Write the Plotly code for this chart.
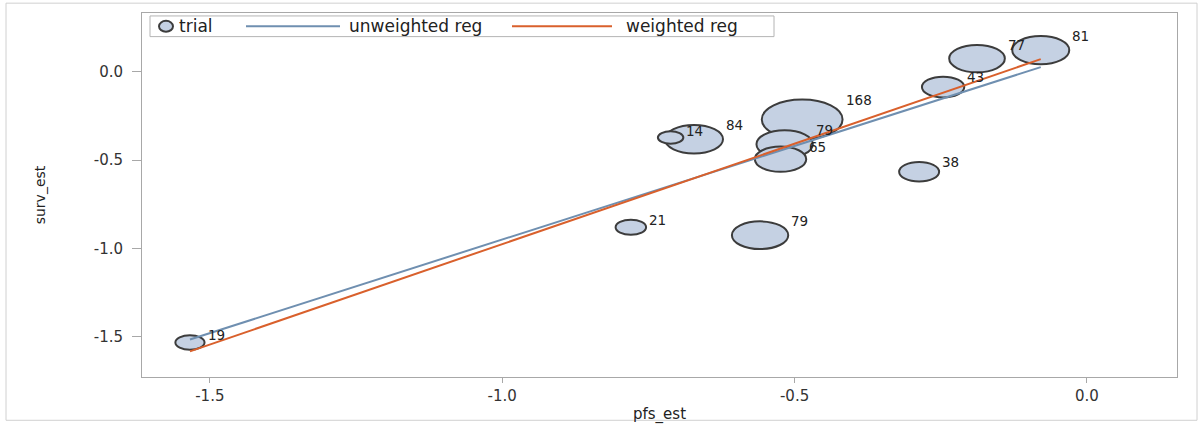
import plotly.graph_objects as go
import numpy as np

# ---- data ----
pfs_est = [-1.534, -0.780, -0.559, -0.712, -0.672, -0.487, -0.517, -0.524, -0.287, -0.246, -0.188, -0.079]
surv_est = [-1.532, -0.880, -0.925, -0.372, -0.382, -0.270, -0.410, -0.495, -0.566, -0.087, 0.074, 0.122]
trial_wt = [19, 21, 79, 14, 84, 168, 79, 65, 38, 43, 77, 81]

reg_x = [-1.534, -0.079]
unweighted_y = [-1.515, 0.026]
weighted_y = [-1.582, 0.071]

tick_vals = [-1.5, -1.0, -0.5, 0.0]
tick_text = ["-1.5", "-1.0", "-0.5", "0.0"]

# ---- layout geometry ----
W, H = 1201, 432
ML, MR, MT, MB = 142, 24, 13, 49
PW, PH = W - ML - MR, H - MT - MB
XR = [-1.616, 0.154]
YR = [-1.727, 0.332]
px_x = PW / (XR[1] - XR[0])
px_y = PH / (YR[1] - YR[0])

FILL = "#c5d1e3"
EDGE = "#3c3c3c"
BLUE = "#6f8fb0"
ORANGE = "#d9602c"
FONT = "DejaVu Sans"

fig = go.Figure()

fig.add_trace(go.Scatter(x=reg_x, y=unweighted_y, mode="lines", name="unweighted reg",
                         line=dict(color=BLUE, width=2), showlegend=False))
fig.add_trace(go.Scatter(x=reg_x, y=weighted_y, mode="lines", name="weighted reg",
                         line=dict(color=ORANGE, width=2), showlegend=False))

shapes = []
annotations = []
order = sorted(range(len(trial_wt)), key=lambda i: -trial_wt[i])
for i in order:
    xv, yv, w = pfs_est[i], surv_est[i], trial_wt[i]
    rx = 1.5 + 3.0 * np.sqrt(w)        # horizontal radius in px
    ry = rx / 2.0                        # vertical radius in px (stretched picture)
    dx, dy = rx / px_x, ry / px_y
    shapes.append(dict(type="circle", xref="x", yref="y", layer="below",
                       x0=xv - dx, x1=xv + dx, y0=yv - dy, y1=yv + dy,
                       fillcolor=FILL, line=dict(color=EDGE, width=2)))
    annotations.append(dict(x=xv + dx, y=yv + dy, xref="x", yref="y", text=str(w),
                            showarrow=False, xanchor="left", yanchor="middle",
                            xshift=1, font=dict(family=FONT, size=13.5, color="#222")))

def pxp(px):
    return (px - ML) / PW

def pyp(py):
    return 1 - (py - MT) / PH

# manual legend
shapes.append(dict(type="rect", xref="paper", yref="paper", layer="above",
                   x0=pxp(150), x1=pxp(774), y0=pyp(16), y1=pyp(37),
                   fillcolor="white", line=dict(color="#b4b4b4", width=1)))
shapes.append(dict(type="circle", xref="paper", yref="paper", layer="above",
                   x0=pxp(159), x1=pxp(173), y0=pyp(21), y1=pyp(32),
                   fillcolor=FILL, line=dict(color=EDGE, width=2)))
shapes.append(dict(type="line", xref="paper", yref="paper", layer="above",
                   x0=pxp(246), x1=pxp(340), y0=pyp(26.5), y1=pyp(26.5),
                   line=dict(color=BLUE, width=2)))
shapes.append(dict(type="line", xref="paper", yref="paper", layer="above",
                   x0=pxp(512), x1=pxp(612), y0=pyp(26.5), y1=pyp(26.5),
                   line=dict(color=ORANGE, width=2)))
for txt, xpx in [("trial", 177), ("unweighted reg", 347), ("weighted reg", 624)]:
    annotations.append(dict(x=pxp(xpx), y=pyp(26.5), xref="paper", yref="paper", text=txt,
                            showarrow=False, xanchor="left", yanchor="middle",
                            font=dict(family=FONT, size=17, color="#222")))

# outer border of the picture
shapes.append(dict(type="rect", xref="paper", yref="paper", layer="below",
                   x0=pxp(6), x1=pxp(1197), y0=pyp(427), y1=pyp(3),
                   line=dict(color="#d0d0d0", width=1)))

axis_common = dict(showgrid=False, zeroline=False, showline=True, mirror=True,
                   linecolor="#a8a8a8", linewidth=1, ticks="outside", tickcolor="#a8a8a8",
                   tickfont=dict(family=FONT, size=15, color="#333"))

fig.update_layout(
    width=W, height=H,
    margin=dict(l=ML, r=MR, t=MT, b=MB),
    paper_bgcolor="white", plot_bgcolor="white",
    shapes=shapes, annotations=annotations, showlegend=False,
    xaxis=dict(range=XR, tickvals=tick_vals, ticktext=tick_text,
               ticklen=5, title=dict(text="pfs_est", standoff=4,
                                     font=dict(family=FONT, size=15, color="#222")),
               **axis_common),
    yaxis=dict(range=YR, tickvals=tick_vals, ticktext=tick_text,
               ticklen=9, ticklabelstandoff=6,
               title=dict(text="surv_est", standoff=44,
                          font=dict(family=FONT, size=14, color="#222")),
               **axis_common),
)

fig.write_html("out.html")
